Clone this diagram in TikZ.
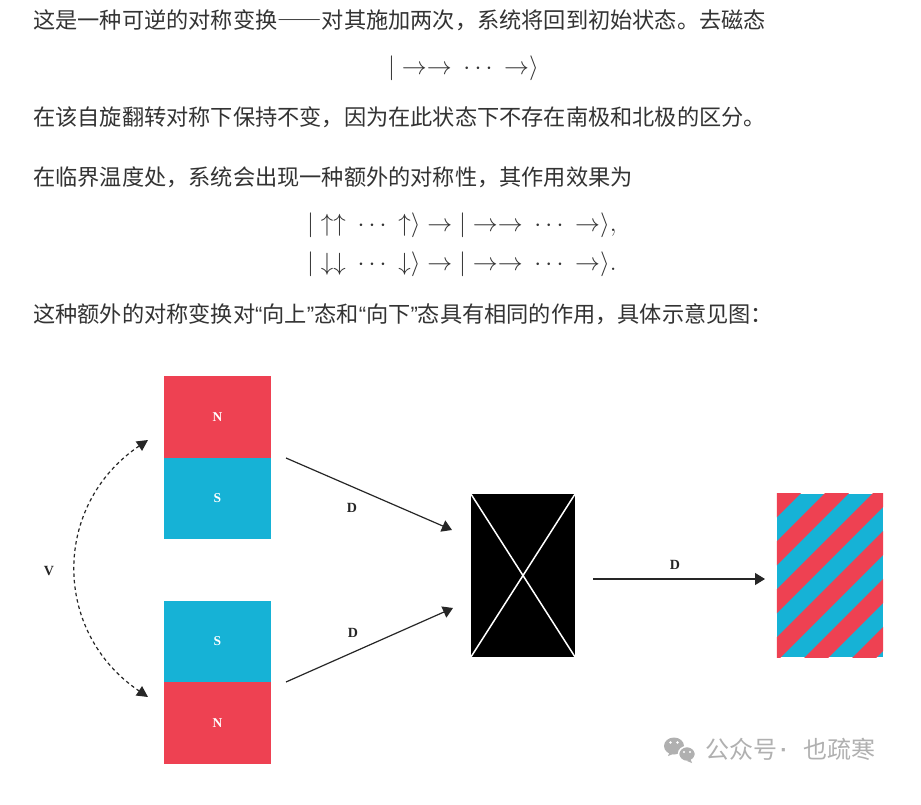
\documentclass[tikz,border=0pt]{standalone}
\usepackage{fontspec}
\newfontfamily\cjk{Noto Sans CJK SC}
\newfontfamily\cjkfw{Noto Sans CJK SC}[RawFeature=+fwid]
\newfontfamily\lsans{Liberation Sans}
\newfontfamily\lserif{Liberation Serif}
\usetikzlibrary{arrows.meta}
\definecolor{magred}{RGB}{238,65,82}
\definecolor{magblue}{RGB}{22,178,214}
\definecolor{txt}{RGB}{51,51,51}
\definecolor{wm}{RGB}{176,176,176}
\newcommand{\wdots}{\mkern3.5mu\cdots\mkern3.5mu}
\begin{document}
\begin{tikzpicture}[x=1pt,y=-1pt,
  para/.style={anchor=base west, inner sep=0, font=\cjk\fontsize{22.2}{26}\selectfont, text=txt},
  mathA/.style={anchor=base west, inner sep=0, font=\fontsize{27}{30}\selectfont, text=txt},
  mathB/.style={anchor=base west, inner sep=0, font=\fontsize{29.5}{32}\selectfont, text=txt},
  half/.style={draw=none, minimum width=107pt, minimum height=81.5pt, inner sep=0, text=white, font=\lserif\bfseries\fontsize{13.5}{16}\selectfont},
  lab/.style={font=\lserif\bfseries\fontsize{14}{16}\selectfont, inner sep=0, text=black!85},
  wmtext/.style={anchor=base west, inner sep=0, font=\cjk\fontsize{24}{27}\selectfont, text=wm},
  conn/.style={line width=1.2pt, draw=black!85, -{Triangle[length=10pt,width=12pt]}},
  flip/.style={line width=1.2pt, draw=black!85, dash pattern=on 3.5pt off 3pt, {Triangle[length=11pt,width=11pt]}-{Triangle[length=11pt,width=11pt]}}
]
\useasboundingbox[fill=white] (0,0) rectangle (921,805);

% ---------- text ----------
\node[para] (t1) at (33,29) {这是一种可逆的对称变换{\cjkfw\fontsize{22.2}{26}\selectfont ——}对其施加两次，系统将回到初始状态。去磁态};
\node[mathA] (m1) at (388,75) {$|\rightarrow\rightarrow\wdots\rightarrow\rangle$};
\node[para] (t2) at (33,126) {在该自旋翻转对称下保持不变，因为在此状态下不存在南极和北极的区分。};
\node[para] (t3) at (33,186) {在临界温度处，系统会出现一种额外的对称性，其作用效果为};
\node[mathB] (m2) at (307,232) {$|\uparrow\uparrow\wdots\uparrow\rangle\rightarrow|\rightarrow\rightarrow\wdots\rightarrow\rangle,$};
\node[mathB] (m3) at (307,270) {$|\downarrow\downarrow\wdots\downarrow\rangle\rightarrow|\rightarrow\rightarrow\wdots\rightarrow\rangle.$};
\node[para] (t4) at (33,322) {这种额外的对称变换对{\lsans“}向上{\lsans”}态和{\lsans“}向下{\lsans”}态具有相同的作用，具体示意见图：};

% ---------- magnets ----------
\node[half, fill=magred]  (nT) at (217.5,416.75) {N};
\node[half, fill=magblue] (sT) at (217.5,498.25) {S};
\node[half, fill=magblue] (sB) at (217.5,641.25) {S};
\node[half, fill=magred]  (nB) at (217.5,722.75) {N};

% ---------- flip arrow V ----------
\coordinate (vs) at (148,440);
\coordinate (ve) at (148,697);
\draw[flip] (vs) .. controls (52,505) and (52,632) .. (ve);
\node[lab] (V) at (49,571) {V};

% ---------- disordered box ----------
\node[fill=black, minimum width=104pt, minimum height=163pt, inner sep=0] (mix) at (523,575.5) {};
\draw[white, line width=1.5pt] (mix.north west) -- (mix.south east) (mix.north east) -- (mix.south west);

% ---------- striped box ----------
\node[fill=magblue, minimum width=106pt, minimum height=163pt, inner sep=0] (stp) at (830,575.5) {};
\begin{scope}
  \clip (stp.north west) rectangle (stp.south east);
  \foreach \s in {1222,1270,...,1558}
    \fill[magred] (\s-470,470) -- (\s-446,470) -- (\s-656,680) -- (\s-680,680) -- cycle;
\end{scope}

% ---------- D arrows ----------
\coordinate (d1s) at (286,458);
\coordinate (d1e) at (452,530);
\coordinate (d2s) at (286,682);
\coordinate (d2e) at (453,608);
\coordinate (d3s) at (593,579);
\coordinate (d3e) at (765,579);
\draw[conn] (d1s) -- (d1e);
\draw[conn] (d2s) -- (d2e);
\draw[conn] (d3s) -- (d3e);
\node[lab] (D1) at (352,508) {D};
\node[lab] (D2) at (353,633) {D};
\node[lab] (D3) at (675,565) {D};

% ---------- watermark ----------
\fill[wm] (674,746) ellipse [x radius=10, y radius=8.5];
\fill[wm] (668,756) -- (670,751) -- (673,754) -- cycle;
\filldraw[wm, draw=white, line width=1.5pt] (687,754) ellipse [x radius=8.5, y radius=7.5];
\fill[wm] (692,763) -- (690,758) -- (687,761) -- cycle;
\fill[white] (670.5,742.5) circle (1.3) (677.5,742.5) circle (1.3) (684,752) circle (1.1) (690,752) circle (1.1);
\node[wmtext] (wm1) at (705,758) {公众号};
\node[anchor=center, inner sep=0, font=\lsans\bfseries\fontsize{22}{26}\selectfont, text=wm] (wm2) at (784,753) {·};
\node[wmtext] (wm3) at (803,758) {也疏寒};
\end{tikzpicture}
\end{document}
